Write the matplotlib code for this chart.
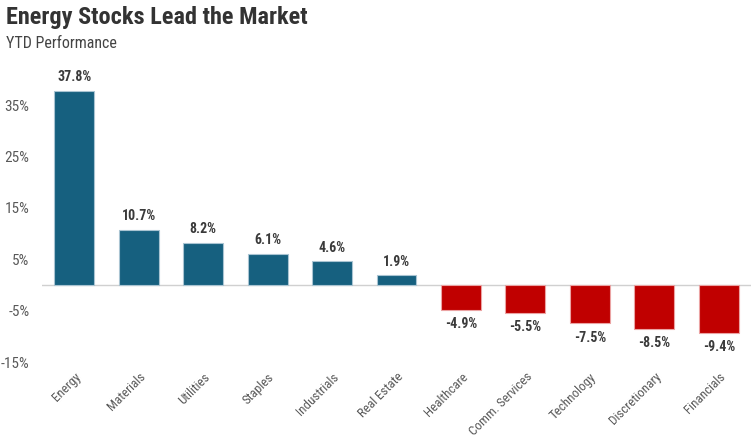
import numpy as np
import matplotlib.pyplot as plt

sectors = ["Energy", "Materials", "Utilities", "Staples", "Industrials", "Real Estate",
           "Healthcare", "Comm. Services", "Technology", "Discretionary", "Financials"]
ytd = [37.8, 10.7, 8.2, 6.1, 4.6, 1.9, -4.9, -5.5, -7.5, -8.5, -9.4]
yticks = [-15, -5, 5, 15, 25, 35]

plt.rcParams['font.family'] = ['Roboto Condensed', 'Barlow Condensed', 'DejaVu Sans']

fig = plt.figure(figsize=(7.51, 4.38), dpi=100)
ax = fig.add_axes([42/751, 1 - 362/438, 709/751, (362 - 60)/438])

x = np.arange(len(sectors))
colors = ['#16607f' if v >= 0 else '#c00000' for v in ytd]
edges = ['#a9c4d2' if v >= 0 else '#eba3a3' for v in ytd]
ax.bar(x, ytd, width=0.62, color=colors, edgecolor=edges, linewidth=0.8, zorder=3)

for xi, v in zip(x, ytd):
    if v >= 0:
        ax.text(xi, v + 1.3, f"{v:.1f}%", ha='center', va='bottom', fontsize=10,
                fontweight='bold', color='#3a3a3a')
    else:
        ax.text(xi, v - 1.4, f"{v:.1f}%", ha='center', va='top', fontsize=10,
                fontweight='bold', color='#3a3a3a')

ax.axhline(0, color='#d0d0d0', linewidth=1, zorder=2)
ax.set_xlim(-0.5, len(sectors) - 0.5)
ax.set_ylim(-15, 43.8)
ax.set_yticks(yticks)
ax.set_yticklabels([f"{t}%" for t in yticks], fontsize=11, color='#595959')
ax.set_xticks(x)
ax.set_xticklabels(sectors, rotation=45, ha='right', rotation_mode='anchor',
                   fontsize=9.4, color='#595959')
ax.tick_params(length=0)
ax.tick_params(axis='y', pad=9)
ax.tick_params(axis='x', pad=6)
for s in ax.spines.values():
    s.set_visible(False)

fig.text(6/751, 1 - 6/438, "Energy Stocks Lead the Market", fontsize=17.5, fontweight='bold',
         color='#333333', ha='left', va='top')
fig.text(6/751, 1 - 36/438, "YTD Performance", fontsize=11.5, color='#444444',
         ha='left', va='top')

fig.savefig("out.png", dpi=100)
